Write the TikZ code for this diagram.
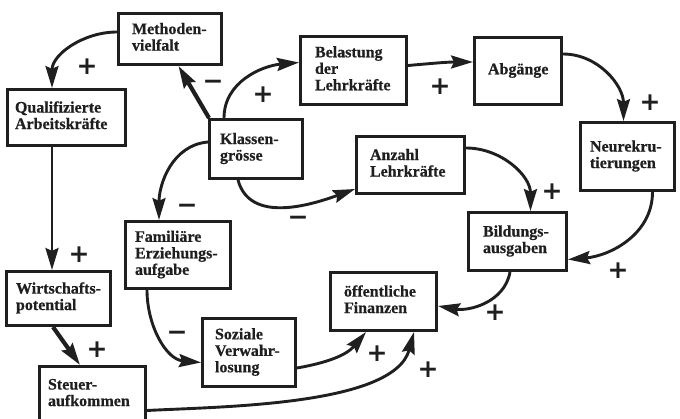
\documentclass[tikz,border=0pt]{standalone}
\usepackage{fontspec}
\setmainfont{Liberation Serif}[BoldFeatures={FakeBold=0.6}]
\newfontfamily\signfont{DejaVu Sans}
\usetikzlibrary{arrows.meta,calc}
\newcommand\mkbox[7]{%
 \pgfmathsetmacro\bcx{(#2+#4)/2}%
 \pgfmathsetmacro\bcy{-(#3+#5)/2}%
 \pgfmathsetmacro\bw{#4-#2-3}%
 \pgfmathsetmacro\bh{#5-#3-3}%
 \pgfmathsetmacro\bxs{#6-1.5}%
 \pgfmathsetmacro\btw{\bw-2*\bxs}%
 \node[box,minimum width=\bw pt,minimum height=\bh pt,inner xsep=\bxs pt] (#1) at (\bcx,\bcy)
   {\makebox[\btw pt][l]{\begin{tabular}{@{}l@{}}#7\end{tabular}}};}
\begin{document}
\begin{tikzpicture}[x=1pt,y=1pt,
 box/.style={draw=black!88, line width=3pt, inner ysep=0pt,
   font=\bfseries\fontsize{16}{16.5}\selectfont, text=black!88},
 arr/.style={draw=black!88, line width=2.9pt, -{Stealth[length=22pt,width=13pt,inset=3pt]}},
 thickarr/.style={arr, line width=4.2pt},
 sign/.style={font=\signfont\bfseries\fontsize{25}{25}\selectfont, inner sep=0pt, text=black!88}]
\useasboundingbox (0,0) rectangle (680,-419);
\mkbox{meth}{117}{12}{223}{66}{15}{Methoden-\\vielfalt}
\mkbox{qual}{6}{88}{127}{147}{9}{Qualifizierte\\Arbeitskräfte}
\mkbox{klass}{208}{118}{304}{180}{12}{Klassen-\\grösse}
\mkbox{bel}{299}{35}{408}{106}{16}{Belastung\\der\\Lehrkräfte}
\mkbox{abg}{473}{36}{563}{106}{15}{Abgänge}
\mkbox{neur}{579}{121}{676}{192}{11}{Neurekru-\\tierungen}
\mkbox{anz}{355}{135}{466}{195}{15}{Anzahl\\Lehrkräfte}
\mkbox{bild}{467}{211}{568}{272}{16}{Bildungs-\\ausgaben}
\mkbox{oeff}{329}{271}{438}{332}{15}{öffentliche\\Finanzen}
\mkbox{fam}{124}{220}{232}{290}{11}{Familiäre\\Erziehungs-\\aufgabe}
\mkbox{wirt}{5}{270}{112}{327}{11}{Wirtschafts-\\potential}
\mkbox{soz}{201}{317}{297}{388}{14}{Soziale\\Verwahr-\\losung}
\mkbox{steu}{38}{365}{147}{424}{10}{Steuer-\\aufkommen}
% connectors
\draw[arr] ([yshift=-20pt]meth.north west) to[out=180,in=90] ([xshift=-14.5pt]qual.north);
\draw[thickarr] ([xshift=1pt]klass.north west) -- ([xshift=8.5pt]meth.south);
\draw[arr] ([xshift=-32pt]klass.north) to[out=90,in=185] ([yshift=8pt]bel.west);
\draw[arr] ([yshift=5pt]bel.east) to[out=5,in=180] ([yshift=9pt]abg.west);
\draw[arr] ([yshift=17pt]abg.east) to[out=0,in=90] ([xshift=-4pt]neur.north);
\draw[arr] ([xshift=25pt]neur.south) to[out=-90,in=5] ([yshift=-18pt]bild.east);
\draw[arr] ([yshift=17pt]anz.east) to[out=0,in=90] ([xshift=13pt]bild.north);
\draw[arr] ([xshift=-18pt]klass.south) to[out=-75,in=200] ([yshift=-24pt]anz.west);
\draw[arr] ([yshift=7pt]klass.west) to[out=185,in=90] ([xshift=-19pt]fam.north);
\draw[arr] ([xshift=-14.5pt]qual.south) -- ([xshift=-6.5pt]wirt.north);
\draw[thickarr] ([xshift=-5.5pt]wirt.south) -- ([xshift=-12.5pt]steu.north);
\draw[arr] ([xshift=-31pt]fam.south) to[out=-90,in=175] ([yshift=-10pt]soz.west);
\draw[arr] ([yshift=-15.5pt]soz.east) to[out=10,in=230] ([xshift=-17.5pt]oeff.south);
\draw[arr] ([yshift=-16pt]steu.east) to[out=3,in=255,looseness=0.7] ([xshift=30.5pt]oeff.south);
\draw[arr] ([xshift=-7.5pt]bild.south) to[out=-100,in=-10] ([yshift=-4.5pt]oeff.east);
% signs
\node[sign] (s1) at (87,-67) {+};
\node[sign] (s2) at (213,-82) {\vphantom{+}−};
\node[sign] (s3) at (263,-95) {+};
\node[sign] (s4) at (440,-87) {+};
\node[sign] (s5) at (650,-103) {+};
\node[sign] (s6) at (618,-271) {+};
\node[sign] (s7) at (552,-192) {+};
\node[sign] (s8) at (298,-218) {\vphantom{+}−};
\node[sign] (s9) at (187,-206) {\vphantom{+}−};
\node[sign] (s10) at (79,-255) {+};
\node[sign] (s11) at (97,-350) {+};
\node[sign] (s12) at (177,-333) {\vphantom{+}−};
\node[sign] (s13) at (377,-354) {+};
\node[sign] (s14) at (428,-370) {+};
\node[sign] (s15) at (495,-313) {+};
\end{tikzpicture}
\end{document}
